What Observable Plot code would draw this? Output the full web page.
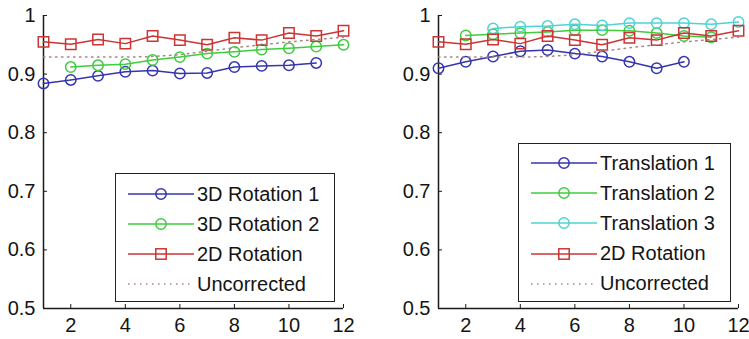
<!DOCTYPE html>
<html><head><meta charset="utf-8">
<script src="https://cdn.jsdelivr.net/npm/d3@7"></script>
<script src="https://cdn.jsdelivr.net/npm/@observablehq/plot@0.6"></script>
<style>
body{margin:0;background:#fff;font-family:"Liberation Sans",Arial,sans-serif;}
#wrap{position:relative;width:749px;height:339px;display:flex;overflow:hidden;}
.legend{position:absolute;border:1.5px solid #222;background:#fff;box-sizing:border-box;}
.row{position:absolute;left:0;height:30px;display:flex;align-items:center;font-size:20px;color:#141414;white-space:nowrap;}
.row svg{display:block;margin-left:12px;margin-right:3px;}
</style></head><body><div id="wrap"></div>
<script>
// ---- data ----
const xs = [1,2,3,4,5,6,7,8,9,10,11,12];
const xTicks = [2,4,6,8,10,12];
const yTicks = [0.5,0.6,0.7,0.8,0.9,1];
const rotation3d1 = [0.884,0.890,0.897,0.904,0.906,0.901,0.902,0.912,0.914,0.915,0.919,null];
const rotation3d2 = [null,0.912,0.915,0.917,0.924,0.929,0.935,0.938,0.942,0.944,0.947,0.950];
const rotation2d  = [0.955,0.951,0.959,0.952,0.965,0.958,0.950,0.962,0.958,0.970,0.965,0.974];
const uncorrected = [0.929,0.929,0.929,0.929,0.930,0.933,0.939,0.945,0.950,0.955,0.959,0.963];
const translation1 = [0.910,0.921,0.930,0.939,0.941,0.935,0.930,0.921,0.910,0.921,null,null];
const translation2 = [null,0.966,0.968,0.970,0.972,0.975,0.975,0.974,0.970,0.965,0.963,null];
const translation3 = [null,null,0.978,0.981,0.982,0.985,0.983,0.987,0.987,0.987,0.985,0.989];
const leftNames  = ["3D Rotation 1","3D Rotation 2","2D Rotation","Uncorrected"];
const rightNames = ["Translation 1","Translation 2","Translation 3","2D Rotation","Uncorrected"];

// ---- styles ----
const C = {blue:"#3535b0", green:"#3fcc3f", cyan:"#4fd3d3", red:"#cc3535", dot:"#a88585"};
const FONT = "'Liberation Sans', Arial, sans-serif";

function rows(vals){ return xs.map((x,i)=>({x, y: vals[i]})).filter(d=>d.y!=null); }

function panel(cfg){
  const marks = [
    Plot.ruleX([1], {y1:0.5, y2:1, stroke:"#1a1a1a", strokeWidth:1.5}),
    Plot.ruleY([0.5], {x1:1, x2:12, stroke:"#1a1a1a", strokeWidth:1.5}),
    Plot.axisX({ticks:xTicks, label:null, tickSize:-4, tickPadding:13, stroke:"#1a1a1a", fill:"#141414"}),
    Plot.axisY({ticks:yTicks, label:null, tickSize:-4, tickPadding:12, stroke:"#1a1a1a", fill:"#141414",
                tickFormat: d => d===1 ? "1" : d.toFixed(1)})
  ];
  for (const s of cfg.series){
    const data = rows(s.values);
    if (s.dotted){
      marks.push(Plot.line(data, {x:"x", y:"y", stroke:s.color, strokeWidth:1.5, strokeDasharray:"1.5,4.5"}));
    } else {
      marks.push(Plot.line(data, {x:"x", y:"y", stroke:s.color, strokeWidth:1.5}));
      marks.push(Plot.dot(data, {x:"x", y:"y", symbol:s.symbol, r: s.symbol==="square"?5.9:5.2,
        stroke:s.color, strokeWidth:1.5, fill:"none"}));
    }
  }
  return Plot.plot({
    width: cfg.width, height: 339,
    marginTop: 15, marginBottom: 31, marginLeft: cfg.marginLeft, marginRight: cfg.marginRight,
    x:{domain:[1,12], axis:null},
    y:{domain:[0.5,1], axis:null},
    style:{fontSize:"20px", fontFamily:FONT, background:"#fff", color:"#141414", overflow:"visible"},
    marks
  });
}

function legend(parent, box, items){
  const el = document.createElement("div");
  el.className = "legend";
  Object.assign(el.style, {left:box.left+"px", top:box.top+"px", width:box.width+"px", height:box.height+"px"});
  items.forEach((it,i)=>{
    const r = document.createElement("div");
    r.className = "row";
    r.style.top = (box.firstRow + i*box.step - 15) + "px";
    let mk = "";
    if (it.symbol==="circle") mk = `<circle cx="33" cy="15" r="5.2" fill="none" stroke="${it.color}" stroke-width="1.5"/>`;
    if (it.symbol==="square") mk = `<rect x="27.8" y="9.8" width="10.4" height="10.4" fill="none" stroke="${it.color}" stroke-width="1.5"/>`;
    const dash = it.dotted ? `stroke-dasharray="1.5,4.5"` : "";
    r.innerHTML = `<svg width="66" height="30"><line x1="0" x2="66" y1="15" y2="15" stroke="${it.color}" stroke-width="1.5" ${dash}/>${mk}</svg><span>${it.name}</span>`;
    el.appendChild(r);
  });
  parent.appendChild(el);
}

const wrap = document.getElementById("wrap");

const leftSeries = [
  {name:leftNames[0], values:rotation3d1, color:C.blue, symbol:"circle"},
  {name:leftNames[1], values:rotation3d2, color:C.green, symbol:"circle"},
  {name:leftNames[2], values:rotation2d, color:C.red, symbol:"square"},
  {name:leftNames[3], values:uncorrected, color:C.dot, dotted:true}
];
const rightSeries = [
  {name:rightNames[0], values:translation1, color:C.blue, symbol:"circle"},
  {name:rightNames[1], values:translation2, color:C.green, symbol:"circle"},
  {name:rightNames[2], values:translation3, color:C.cyan, symbol:"circle"},
  {name:rightNames[3], values:rotation2d, color:C.red, symbol:"square"},
  {name:rightNames[4], values:uncorrected, color:C.dot, dotted:true}
];

wrap.appendChild(panel({width:370, marginLeft:43, marginRight:27, series:leftSeries}));
wrap.appendChild(panel({width:379, marginLeft:68, marginRight:11, series:rightSeries}));

legend(wrap, {left:115, top:173, width:220, height:129, firstRow:20, step:30}, leftSeries);
legend(wrap, {left:518, top:143, width:213, height:159, firstRow:19, step:30.2}, rightSeries);
</script>
</body></html>
